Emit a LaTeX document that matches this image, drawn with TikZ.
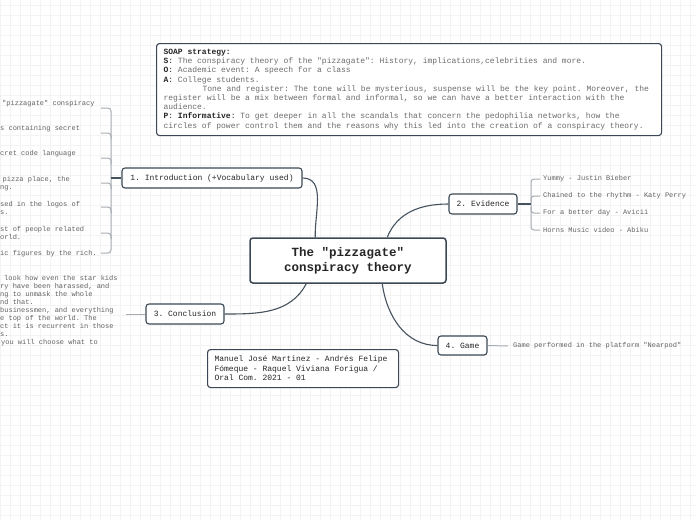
\documentclass[tikz,border=0pt]{standalone}
\usepackage{fontspec}
\setmainfont{Liberation Mono}[Ligatures=TeXOff,WordSpace={1,0,0},PunctuationSpace=WordSpace]
\usetikzlibrary{positioning}

\definecolor{boxline}{HTML}{3B4754}
\definecolor{linkline}{HTML}{46525E}
\definecolor{twigline}{HTML}{A7ADB3}
\definecolor{leaftext}{HTML}{626262}
\definecolor{soaptext}{HTML}{6C6C6C}
\definecolor{gridcol}{HTML}{F3F3F3}

\tikzset{
  gridline/.style={draw=gridcol, line width=0.6pt},
  topic/.style={draw=boxline, line width=1.1pt, rounded corners=3pt, fill=white,
    font=\fontsize{8}{9}\selectfont, text=black!85, inner sep=0pt},
  central/.style={topic, line width=1.5pt, align=center,
    font=\fontsize{12.5}{15}\selectfont\bfseries},
  leaf/.style={font=\fontsize{7}{8}\selectfont, text=leaftext, inner sep=0pt,
    anchor=west, align=flush left},
  link/.style={draw=linkline, line width=1.1pt},
  twig/.style={draw=twigline, line width=1pt, rounded corners=3pt}
}

\begin{document}
\begin{tikzpicture}[x=1pt,y=-1pt]

\fill[white] (0,0) rectangle (696,520);
\useasboundingbox (0,0) rectangle (696,520);

% background grid
\foreach \gx in {0,10,...,690} \draw[gridline] (\gx,0) -- (\gx,520);
\foreach \gy in {5,15,...,515} \draw[gridline] (0,\gy) -- (696,\gy);

% main topics
\node[central, minimum width=196, minimum height=45] (central) at (348,260.5)
  {The "pizzagate"\\ conspiracy theory};
\node[topic, minimum width=180, minimum height=20] (intro) at (212,178)
  {1. Introduction (+Vocabulary used)};
\node[topic, minimum width=68, minimum height=20] (evidence) at (483,204)
  {2. Evidence};
\node[topic, minimum width=78, minimum height=20] (conclusion) at (185,314)
  {3. Conclusion};
\node[topic, minimum width=49, minimum height=19] (game) at (462.5,345.5)
  {4. Game};

% soap box
\node[topic, anchor=north west, text width=491, minimum height=92,
  inner xsep=7pt, align=flush left, text=soaptext,
  font=\fontsize{8}{9.2}\selectfont] (soap) at (156,43)
  {\textcolor{black!85}{\textbf{SOAP strategy:}}\\
   \textcolor{black!85}{\textbf{S}:} The conspiracy theory of the "pizzagate": History, implications,celebrities and more.\\
   \textcolor{black!85}{\textbf{O}:} Academic event: A speech for a class\\
   \textcolor{black!85}{\textbf{A}:} College students.\\
   \hspace*{39pt}Tone and register: The tone will be mysterious, suspense will be the key point. Moreover, the\\
   register will be a mix between formal and informal, so we can have a better interaction with the\\
   audience.\\
   \textcolor{black!85}{\textbf{P}: \textbf{Informative}:} To get deeper in all the scandals that concern the pedophilia networks, how the\\
   circles of power control them and the reasons why this led into the creation of a conspiracy theory.};

% authors
\node[topic, anchor=north west, text width=177, minimum height=38,
  inner xsep=7pt, align=flush left, font=\fontsize{8}{9.5}\selectfont] (authors) at (207,349)
  {Manuel José Martinez - Andrés Felipe\\Fómeque - Raquel Viviana Forigua /\\Oral Com. 2021 - 01};

% connectors from the centre
\draw[link] (intro.east) to[out=0,in=92] ([xshift=66pt]central.north west);
\draw[link] ([xshift=138pt]central.north west) to[out=68,in=180] (evidence.west);
\draw[link] ([xshift=57pt]central.south west) to[out=-118,in=0] (conclusion.east);
\draw[link] ([xshift=133pt]central.south west) to[out=-82,in=180] (game.west);

% introduction vocabulary
\node[leaf] (v1) at (2,104) {"pizzagate" conspiracy};
\node[leaf] (v2) at (0,129) {s containing secret};
\node[leaf] (v3) at (0,154) {cret code language};
\node[leaf] (v4) at (0,183.5) {\hspace*{2.5pt}pizza place, the\\ng.};
\node[leaf] (v5) at (0,208) {sed in the logos of\\s.};
\node[leaf] (v6) at (0,233) {st of people related\\orld.};
\node[leaf] (v7) at (0,254) {ic figures by the rich.};

\coordinate (introfork) at (111,178);
\draw[twig] (101,108) -- (111,108) -- (111,253) -- (101,253);
\foreach \ty in {133,158,183,207,233}
  \draw[twig] (101,\ty) -- (111,\ty) -- (111,\ty+6);
\draw[link] (intro.west) -- (introfork);

% evidence
\node[leaf] (ev1) at (543,179) {Yummy - Justin Bieber};
\node[leaf] (ev2) at (543,196) {Chained to the rhythm - Katy Perry};
\node[leaf] (ev3) at (543,213) {For a better day - Avicii};
\node[leaf] (ev4) at (543,230) {Horns Music video - Abiku};

\coordinate (evfork) at (531,204);
\draw[twig] ([xshift=-3pt]ev1.west) -| (evfork) |- ([xshift=-3pt]ev4.west);
\draw[twig] ([xshift=-3pt]ev2.west) -- (531,196) -- (531,202);
\draw[twig] ([xshift=-3pt]ev3.west) -- (531,213) -- (531,207);
\draw[link] (evidence.east) -- (evfork);

% conclusion
\node[leaf] (concl) at (0,311)
  {\hspace*{4pt}look how even the star kids\\
   ry have been harassed, and\\
   ng to unmask the whole\\
   nd that.\\
   businessmen, and everything\\
   e top of the world. The\\
   ct it is recurrent in those\\
   s.\\
   \hspace*{1pt}you will choose what to};
\coordinate (concend) at (126,314);
\draw[twig] (conclusion.west) -- (concend);

% game
\node[leaf] (gameleaf) at (513,346) {Game performed in the platform "Nearpod"};
\draw[twig] (game.east) -- ([xshift=-5pt]gameleaf.west);

\end{tikzpicture}
\end{document}
